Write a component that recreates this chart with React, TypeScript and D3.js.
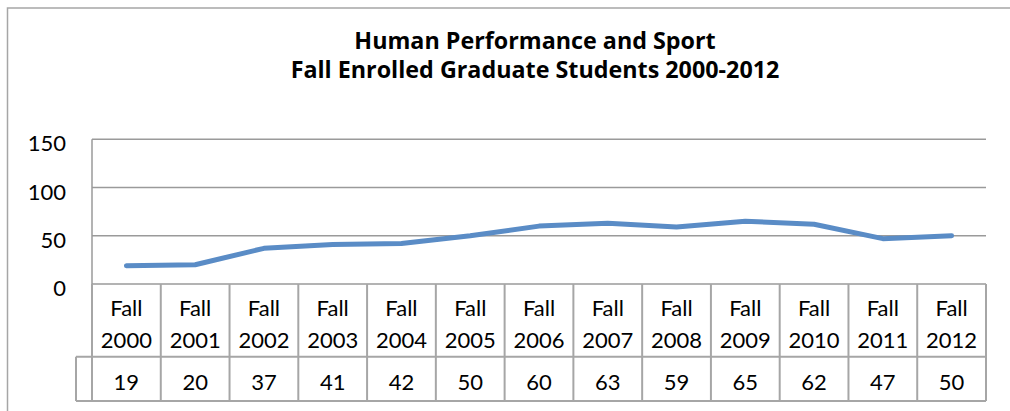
import * as d3 from "d3";

const years = [
  "2000", "2001", "2002", "2003", "2004", "2005", "2006",
  "2007", "2008", "2009", "2010", "2011", "2012",
];
const enrolled = [19, 20, 37, 41, 42, 50, 60, 63, 59, 65, 62, 47, 50];
const yTicks = [0, 50, 100, 150];
const titleLines = [
  "Human Performance and Sport",
  "Fall Enrolled Graduate Students 2000-2012",
];

const W = 1010;
const H = 411;
const plot = { left: 92, right: 986, top: 139.3, bottom: 284 };
const rowMid = 356.7;
const rowBottom = 401;
const legendLeft = 76;

const font = "Lato, 'Open Sans', sans-serif";
const titleFont = "'Open Sans', Lato, sans-serif";
const gridColor = "#9a9a9a";
const lineColor = "#5a8cc6";

export default function App() {
  const x = d3
    .scaleBand<string>()
    .domain(years)
    .range([plot.left, plot.right])
    .padding(0);
  const y = d3
    .scaleLinear()
    .domain([0, 150])
    .range([plot.bottom, plot.top]);

  const line = d3
    .line<number>()
    .x((_, i) => x(years[i])! + x.bandwidth() / 2)
    .y((d) => y(d));

  const edges = years.map((yr) => x(yr)!).concat([plot.right]);

  return (
    <svg
      width={W}
      height={H}
      style={{ position: "absolute", left: 0, top: 0, background: "#fff" }}
      fontFamily={font}
    >
      <rect x={0} y={0} width={W} height={H} fill="#fff" />
      {/* chart frame */}
      <rect
        x={7.5}
        y={8}
        width={1100}
        height={500}
        fill="none"
        stroke="#a6a6a6"
        strokeWidth={1.5}
      />

      {/* title */}
      {titleLines.map((t, i) => (
        <text
          key={t}
          x={535}
          y={49 + i * 29}
          textAnchor="middle"
          fontSize={23.3}
          fontWeight="bold"
          fontFamily={titleFont}
          fill="#000"
        >
          {t}
        </text>
      ))}

      {/* gridlines */}
      {yTicks.map((t) => (
        <line
          key={t}
          x1={plot.left}
          x2={plot.right}
          y1={y(t)}
          y2={y(t)}
          stroke={gridColor}
          strokeWidth={1.5}
        />
      ))}
      <line
        x1={plot.left}
        x2={plot.left}
        y1={plot.top}
        y2={plot.bottom}
        stroke={gridColor}
        strokeWidth={1.5}
      />

      {/* y labels */}
      {yTicks.map((t) => (
        <text
          key={"l" + t}
          x={66}
          y={y(t) + 12}
          textAnchor="end"
          fontSize={22}
          fill="#000"
        >
          {t}
        </text>
      ))}

      {/* data table */}
      <g stroke="#a6a6a6" strokeWidth={2} fill="none">
        {edges.map((ex, i) => (
          <line key={"v" + i} x1={ex} x2={ex} y1={plot.bottom} y2={rowBottom} />
        ))}
        <line x1={legendLeft} x2={plot.right} y1={rowMid} y2={rowMid} />
        <line x1={legendLeft} x2={plot.right} y1={rowBottom} y2={rowBottom} />
        <line x1={legendLeft} x2={legendLeft} y1={rowMid} y2={rowBottom} />
      </g>
      {years.map((yr, i) => {
        const cx = x(yr)! + x.bandwidth() / 2;
        return (
          <g key={"c" + yr} fontSize={22} fill="#000" textAnchor="middle">
            <text x={cx} y={316}>Fall</text>
            <text x={cx} y={348}>{yr}</text>
            <text x={cx} y={390}>{enrolled[i]}</text>
          </g>
        );
      })}

      {/* series line */}
      <path
        d={line(enrolled) ?? ""}
        fill="none"
        stroke={lineColor}
        strokeWidth={5}
        strokeLinejoin="round"
        strokeLinecap="round"
      />
    </svg>
  );
}
